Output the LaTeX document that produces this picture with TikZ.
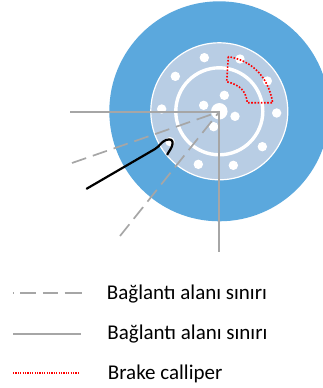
\documentclass[tikz,border=0pt]{standalone}
\usepackage{fontspec}
\setmainfont{Carlito}
\definecolor{tyre}{HTML}{5BA8DD}
\definecolor{discfill}{HTML}{B8CDE4}
\definecolor{lineg}{HTML}{A6A6A6}
\tikzset{
  holeW/.style={circle,fill=white,draw=none,minimum size=9.4pt,inner sep=0pt},
  solidg/.style={draw=lineg,line width=1.8pt},
  dashg/.style={draw=lineg,line width=1.7pt,dash pattern=on 15pt off 7pt},
  calliper/.style={draw=red,line width=1.6pt,dash pattern=on 1.6pt off 1.6pt},
  legendtext/.style={anchor=base west,inner sep=0pt,font=\fontsize{21pt}{24pt}\selectfont,text=black}
}
\begin{document}
\begin{tikzpicture}[x=1pt,y=-1pt]
\useasboundingbox (0,0) rectangle (323,388);
\begin{scope}
\clip (0,0) rectangle (323,388);
\fill[tyre] (219.3,111.3) circle (110);
\end{scope}
\fill[discfill,draw=white,line width=1.2pt] (219.3,111.3) circle (68.5);
\draw[white,line width=3.4pt] (219.3,111.3) circle (43.5);
\node[holeW,minimum size=16.5pt] (hub) at (219.3,111.3) {};
\foreach \n/\x/\y in {o1/433/173,o2/346/229,o3/305/327,o4/330/425,o5/415/493,o6/520/496,o7/607/440,o8/650/339,o9/622/243,o10/540/177,i1/431/316,i2/493/286,i3/525/349,i4/461/380}
  \node[holeW] (\n) at ({60+\x/3},{\y/3}) {};
% connectors
\coordinate (left) at (70,111.7);
\coordinate (bottom) at (219.3,251.5);
\coordinate (dashA) at (72,163);
\coordinate (dashB) at (120,236);
\coordinate (c) at (219.3,111.7);
\draw[solidg] (left) -- (c) -- (bottom);
\draw[dashg] (dashA) -- (c);
\draw[dashg] (dashB) -- (c);
% calliper
\draw[calliper] (228.3,56.7) -- (226.7,81.7) .. controls (241,85) and (246,92) .. (247.3,102.7) -- (272.7,102.7) .. controls (268,75) and (250,60) .. cycle;
% black curve
\draw[black,line width=2.2pt,line cap=round,line join=round] (86.7,188.7) -- (155,149) .. controls (160,146) and (161,142) .. (166,140) .. controls (171,138.5) and (173,140) .. (172.5,144) .. controls (172,148) and (169,151) .. (167.3,154.5);
% legend
\coordinate (l1a) at (13,293);
\coordinate (l1b) at (81,293);
\coordinate (l2a) at (13,333.7);
\coordinate (l2b) at (81,333.7);
\coordinate (l3a) at (13,373);
\coordinate (l3b) at (79,373);
\draw[draw=lineg,line width=1.7pt,dash pattern=on 0.8pt off 6.4pt on 16pt off 6.6pt on 15pt off 6.7pt on 16pt off 0pt] (l1a) -- (l1b);
\draw[solidg] (l2a) -- (l2b);
\draw[draw=red,line width=1.3pt,dash pattern=on 1.2pt off 1.2pt] (l3a) -- (l3b);
\node[legendtext] (t1) at (106.7,299) {Bağlantı alanı sınırı};
\node[legendtext] (t2) at (107.2,339) {Bağlantı alanı sınırı};
\node[legendtext] (t3) at (107.7,379) {Brake calliper};
\end{tikzpicture}
\end{document}
